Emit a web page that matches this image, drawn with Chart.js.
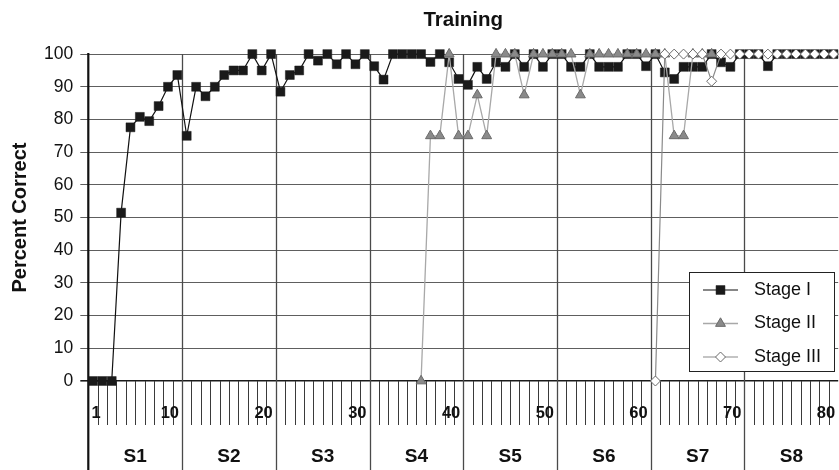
<!DOCTYPE html>
<html>
<head>
<meta charset="utf-8">
<script src="https://cdn.jsdelivr.net/npm/chart.js@4/dist/chart.umd.min.js"></script>
<style>
  html, body { margin: 0; padding: 0; background: #fff; overflow: hidden; }
  #wrap { width: 845px; height: 470px; }
</style>
</head>
<body>
<div id="wrap"><canvas id="trainingChart" width="845" height="470"></canvas></div>
<script>
// trial numbers on the x axis
const trials = [
    1, 2, 3, 4, 5, 6, 7, 8, 9, 10, 11, 12, 13, 14, 15, 16, 17, 18, 19, 20,
    21, 22, 23, 24, 25, 26, 27, 28, 29, 30, 31, 32, 33, 34, 35, 36, 37, 38, 39, 40,
    41, 42, 43, 44, 45, 46, 47, 48, 49, 50, 51, 52, 53, 54, 55, 56, 57, 58, 59, 60,
    61, 62, 63, 64, 65, 66, 67, 68, 69, 70, 71, 72, 73, 74, 75, 76, 77, 78, 79, 80
];
const tickLabels = [1, 10, 20, 30, 40, 50, 60, 70, 80];
const sessions = ['S1', 'S2', 'S3', 'S4', 'S5', 'S6', 'S7', 'S8'];
const yTicks = [0, 10, 20, 30, 40, 50, 60, 70, 80, 90, 100];

const stageI = [
    0, 0, 0, 51.5, 77.6, 80.8, 79.5, 84.1, 90, 93.6,
    75, 90, 87.1, 90, 93.6, 95, 95, 100, 95, 100,
    88.5, 93.6, 95, 100, 98, 100, 96.9, 100, 96.9, 100,
    96.3, 92.2, 100, 100, 100, 100, 97.6, 100, 97.5, 92.4,
    90.6, 96.1, 92.4, 97.5, 96.1, 100, 96.1, 100, 96.1, 100,
    100, 96.1, 96.1, 100, 96.1, 96.1, 96.1, 100, 100, 96.3,
    100, 94.4, 92.4, 96.1, 96.1, 96.1, 100, 97.5, 96.1, 100,
    100, 100, 96.3, 100, 100, 100, 100, 100, 100, 100
];
const stageII = [
    null, null, null, null, null, null, null, null, null, null,
    null, null, null, null, null, null, null, null, null, null,
    null, null, null, null, null, null, null, null, null, null,
    null, null, null, null, null, 0, 75, 75, 100, 75,
    75, 87.5, 75, 100, 100, 100, 87.5, 100, 100, 100,
    100, 100, 87.5, 100, 100, 100, 100, 100, 100, 100,
    100, 100, 75, 75, 100, 100, 100, null, null, null,
    null, null, null, null, null, null, null, null, null, null
];
const stageIII = [
    null, null, null, null, null, null, null, null, null, null,
    null, null, null, null, null, null, null, null, null, null,
    null, null, null, null, null, null, null, null, null, null,
    null, null, null, null, null, null, null, null, null, null,
    null, null, null, null, null, null, null, null, null, null,
    null, null, null, null, null, null, null, null, null, null,
    0, 100, 100, 100, 100, 100, 91.7, 100, 100, 100,
    100, 100, 100, 100, 100, 100, 100, 100, 100, 100
];

const FONT = "'Liberation Sans', Arial, Helvetica, sans-serif";

// two-tier bottom axis: trial ticks + session boxes, and the heavy left axis line
const sessionAxis = {
    id: 'sessionAxis',
    beforeDatasetsDraw(chart) {
        const ctx = chart.ctx;
        const x = chart.scales.x;
        const area = chart.chartArea;
        const bottom = chart.height;
        ctx.save();

        // session separators
        ctx.strokeStyle = '#4a4a4a';
        ctx.lineWidth = 1.3;
        for (let k = 1; k < sessions.length; k++) {
            const px = Math.round(x.getPixelForValue(k * 10 + 0.5)) + 0.5;
            ctx.beginPath();
            ctx.moveTo(px, area.top);
            ctx.lineTo(px, bottom);
            ctx.stroke();
        }

        // small ticks between trials
        ctx.strokeStyle = '#3a3a3a';
        ctx.lineWidth = 1;
        for (let n = 1; n < trials.length; n++) {
            if (n % 10 === 0) continue;
            const px = Math.round(x.getPixelForValue(n + 0.5)) + 0.5;
            ctx.beginPath();
            ctx.moveTo(px, area.bottom);
            ctx.lineTo(px, area.bottom + 44);
            ctx.stroke();
        }

        // left axis, running down through the session row
        ctx.strokeStyle = '#111';
        ctx.lineWidth = 2.2;
        ctx.beginPath();
        ctx.moveTo(area.left, area.top - 1);
        ctx.lineTo(area.left, bottom);
        ctx.stroke();

        // trial labels
        ctx.fillStyle = '#111';
        ctx.font = 'bold 16.5px ' + FONT;
        ctx.textBaseline = 'middle';
        tickLabels.forEach(n => {
            if (n === 1) {
                ctx.textAlign = 'center';
                ctx.fillText(String(n), x.getPixelForValue(n) + 3, area.bottom + 32);
            } else {
                ctx.textAlign = 'right';
                ctx.fillText(String(n), x.getPixelForValue(n + 0.5) - 3, area.bottom + 32);
            }
        });

        // session labels
        ctx.font = 'bold 19px ' + FONT;
        ctx.textAlign = 'center';
        sessions.forEach((s, i) => {
            const cx = x.getPixelForValue(i * 10 + 5.5);
            ctx.fillText(s, cx, area.bottom + 76);
        });
        ctx.restore();
    }
};

// boxed legend inside the plot, lower right
const boxLegend = {
    id: 'boxLegend',
    afterDraw(chart) {
        const ctx = chart.ctx;
        const left = 689.5, top = 272.5, w = 145, h = 99;
        ctx.save();
        ctx.fillStyle = '#fff';
        ctx.fillRect(left, top, w, h);
        ctx.strokeStyle = '#222';
        ctx.lineWidth = 1;
        ctx.strokeRect(left, top, w, h);

        const rows = [290, 323.5, 357];
        chart.data.datasets.forEach((ds, i) => {
            const y = rows[i];
            ctx.strokeStyle = ds.borderColor;
            ctx.lineWidth = ds.borderWidth;
            ctx.beginPath();
            ctx.moveTo(703, y);
            ctx.lineTo(738, y);
            ctx.stroke();
            ctx.fillStyle = ds.pointBackgroundColor;
            ctx.strokeStyle = ds.pointBorderColor;
            ctx.lineWidth = ds.pointBorderWidth;
            Chart.helpers.drawPoint(ctx, {
                pointStyle: ds.pointStyle,
                radius: ds.pointRadius,
                rotation: 0,
                borderWidth: ds.pointBorderWidth
            }, 720.5, y);
            ctx.fillStyle = '#111';
            ctx.font = '18px ' + FONT;
            ctx.textAlign = 'left';
            ctx.textBaseline = 'middle';
            ctx.fillText(ds.label, 754, y);
        });
        ctx.restore();
    }
};

const ctx = document.getElementById('trainingChart').getContext('2d');
new Chart(ctx, {
    type: 'line',
    data: {
        labels: trials,
        datasets: [
            {
                label: 'Stage I',
                data: stageI,
                borderColor: '#111',
                borderWidth: 1.2,
                pointStyle: 'rect',
                pointRadius: 6.3,
                pointBackgroundColor: '#1a1a1a',
                pointBorderColor: '#1a1a1a',
                pointBorderWidth: 0.5,
                tension: 0,
                clip: false,
                order: 3
            },
            {
                label: 'Stage II',
                data: stageII,
                borderColor: '#a8a8a8',
                borderWidth: 1.3,
                pointStyle: 'triangle',
                pointRadius: 5.7,
                pointBackgroundColor: '#8a8a8a',
                pointBorderColor: '#6a6a6a',
                pointBorderWidth: 1,
                tension: 0,
                clip: false,
                order: 2
            },
            {
                label: 'Stage III',
                data: stageIII,
                borderColor: '#8a8a8a',
                borderWidth: 1.2,
                pointStyle: 'rectRot',
                pointRadius: 5,
                pointBackgroundColor: '#fff',
                pointBorderColor: '#6a6a6a',
                pointBorderWidth: 1,
                tension: 0,
                clip: false,
                order: 1
            }
        ]
    },
    options: {
        responsive: false,
        animation: false,
        layout: { padding: { left: 0, right: 3, top: 0, bottom: 0 } },
        scales: {
            x: {
                type: 'linear',
                min: 0.5,
                max: 80.5,
                grid: { display: false },
                border: { display: false },
                ticks: { display: false },
                afterFit: function(scale) { scale.height = 89; }
            },
            y: {
                min: 0,
                max: 100,
                afterFit: function(scale) { scale.width = 88.3; },
                afterBuildTicks: function(scale) {
                    scale.ticks = yTicks.map(v => ({ value: v }));
                },
                border: { display: false },
                grid: {
                    color: c => (c.tick && c.tick.value === 0) ? '#1a1a1a' : '#5e5e5e',
                    lineWidth: c => (c.tick && c.tick.value === 0) ? 1.6 : 1,
                    tickLength: 8,
                    drawTicks: true
                },
                ticks: {
                    color: '#111',
                    padding: 7,
                    font: { family: FONT, size: 17.5 }
                },
                title: {
                    display: true,
                    text: 'Percent Correct',
                    color: '#111',
                    font: { family: FONT, size: 20, weight: 'bold' },
                    padding: { top: 8.5, bottom: 0 }
                }
            }
        },
        plugins: {
            legend: { display: false },
            tooltip: { enabled: false },
            title: {
                display: true,
                text: 'Training',
                fullSize: false,
                color: '#111',
                font: { family: FONT, size: 20.5, weight: 'bold' },
                padding: { top: 8, bottom: 21.5 }
            }
        }
    },
    plugins: [sessionAxis, boxLegend]
});
</script>
</body>
</html>
